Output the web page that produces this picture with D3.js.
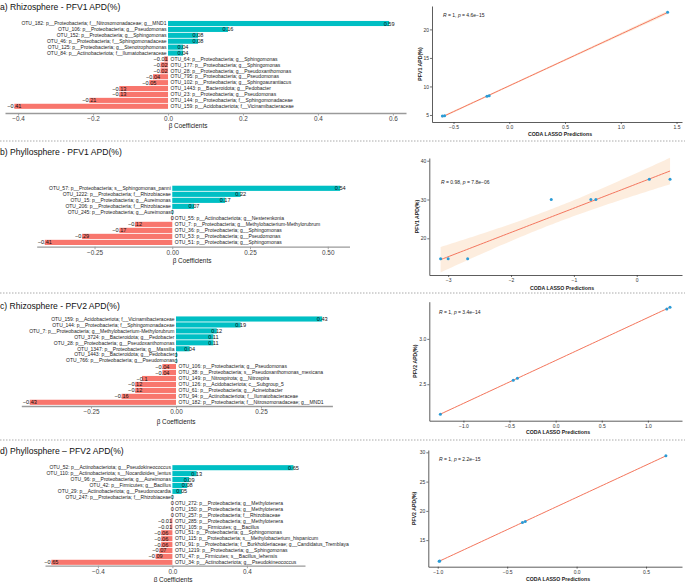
<!DOCTYPE html>
<html><head><meta charset="utf-8">
<script src="https://cdn.jsdelivr.net/npm/d3@7"></script>
<style>body{margin:0;background:#fff;} svg{display:block;font-family:"Liberation Sans",Arial,Helvetica,sans-serif;}</style>
</head><body><svg id="chart" width="685" height="582"></svg>
<script>
// ---------- DATA ----------
const rhizoPFV1Labels = [
  "OTU_182: p__Proteobacteria; f__Nitrosomonadaceae; g__MND1",
  "OTU_106: p__Proteobacteria; g__Pseudomonas",
  "OTU_152: p__Proteobacteria; g__Sphingomonas",
  "OTU_46: p__Proteobacteria; f__Sphingomonadaceae",
  "OTU_125: p__Proteobacteria; g__Stenotrophomonas",
  "OTU_84: p__Actinobacteriota; f__Ilumatobacteraceae",
  "OTU_64: p__Proteobacteria; g__Sphingomonas",
  "OTU_177: p__Proteobacteria; g__Sphingomonas",
  "OTU_28: p__Proteobacteria; g__Pseudoxanthomonas",
  "OTU_795: p__Proteobacteria; g__Pseudomonas",
  "OTU_102: p__Proteobacteria; g__Sphingoaurantiacus",
  "OTU_1443: p__Bacteroidota; g__Pedobacter",
  "OTU_23: p__Proteobacteria; g__Pseudomonas",
  "OTU_144: p__Proteobacteria; f__Sphingomonadaceae",
  "OTU_159: p__Acidobacteriota; f__Vicinamibacteraceae"];
const rhizoPFV1Values = [0.59, 0.16, 0.08, 0.08, 0.04, 0.04, -0.01, -0.02, -0.02, -0.04, -0.05, -0.13, -0.13, -0.21, -0.41];

const phylloPFV1Labels = [
  "OTU_57: p__Proteobacteria; s__Sphingomonas_panni",
  "OTU_1222: p__Proteobacteria; f__Rhizobiaceae",
  "OTU_15: p__Proteobacteria; g__Aureimonas",
  "OTU_206: p__Proteobacteria; f__Rhizobiaceae",
  "OTU_245: p__Proteobacteria; g__Aureimonas",
  "OTU_55: p__Actinobacteriota; g__Nesterenkonia",
  "OTU_7: p__Proteobacteria; g__Methylobacterium-Methylorubrum",
  "OTU_36: p__Proteobacteria; g__Sphingomonas",
  "OTU_53: p__Proteobacteria; g__Pseudomonas",
  "OTU_51: p__Proteobacteria; g__Sphingomonas"];
const phylloPFV1Values = [0.54, 0.22, 0.17, 0.07, 0.002, -0.002, -0.12, -0.17, -0.29, -0.41];

const rhizoPFV2Labels = [
  "OTU_159: p__Acidobacteriota; f__Vicinamibacteraceae",
  "OTU_144: p__Proteobacteria; f__Sphingomonadaceae",
  "OTU_7: p__Proteobacteria; g__Methylobacterium-Methylorubrum",
  "OTU_3724: p__Bacteroidota; g__Pedobacter",
  "OTU_28: p__Proteobacteria; g__Pseudoxanthomonas",
  "OTU_1347: p__Proteobacteria; g__Massilia",
  "OTU_1443: p__Bacteroidota; g__Pedobacter",
  "OTU_766: p__Proteobacteria; g__Pseudomonas",
  "OTU_106: p__Proteobacteria; g__Pseudomonas",
  "OTU_38: p__Proteobacteria; s__Pseudoxanthomonas_mexicana",
  "OTU_149: p__Nitrospirota; g__Nitrospira",
  "OTU_126: p__Acidobacteriota; c__Subgroup_5",
  "OTU_61: p__Proteobacteria; g__Acinetobacter",
  "OTU_94: p__Actinobacteriota; f__Ilumatobacteraceae",
  "OTU_182: p__Proteobacteria; f__Nitrosomonadaceae; g__MND1"];
const rhizoPFV2Values = [0.43, 0.19, 0.12, 0.11, 0.11, 0.04, 0.003, 0.002, -0.04, -0.04, -0.1, -0.12, -0.12, -0.16, -0.43];

const phylloPFV2Labels = [
  "OTU_52: p__Actinobacteriota; g__Pseudokineococcus",
  "OTU_110: p__Actinobacteriota; s__Nocardioides_lentus",
  "OTU_96: p__Proteobacteria; g__Aureimonas",
  "OTU_42: p__Firmicutes; g__Bacillus",
  "OTU_29: p__Actinobacteriota; g__Pseudonocardia",
  "OTU_247: p__Proteobacteria; f__Rhizobiaceae",
  "OTU_272: p__Proteobacteria; g__Methylotenera",
  "OTU_150: p__Proteobacteria; g__Methylotenera",
  "OTU_257: p__Proteobacteria; f__Rhizobiaceae",
  "OTU_285: p__Proteobacteria; g__Methylotenera",
  "OTU_105: p__Firmicutes; g__Bacillus",
  "OTU_51: p__Proteobacteria; g__Sphingomonas",
  "OTU_115: p__Proteobacteria; s__Methylobacterium_hispanicum",
  "OTU_91: p__Proteobacteria; f__Burkholderiaceae; g__Candidatus_Tremblaya",
  "OTU_1219: p__Proteobacteria; g__Sphingomonas",
  "OTU_47: p__Firmicutes; s__Bacillus_lehensis",
  "OTU_34: p__Actinobacteriota; g__Pseudokineococcus"];
const phylloPFV2Values = [0.65, 0.13, 0.09, 0.08, 0.05, 0.003, -0.002, -0.002, -0.002, -0.01, -0.01, -0.06, -0.06, -0.06, -0.07, -0.09, -0.65];

const barTicksA = [-0.4, -0.2, 0.0, 0.2, 0.4, 0.6];
const barTicksB = [-0.25, 0.00, 0.25, 0.50];
const barTicksC = [-0.25, 0.00, 0.25];
const barTicksD = [-0.4, 0.0, 0.4];

// scatter data (CODA LASSO prediction, observed APD %)
const scatterAx = [-0.6, -0.58, -0.2, -0.18, 1.42];
const scatterAy = [4.8, 4.85, 8.3, 8.35, 23.0];
const scatterBx = [-3.12, -3.0, -2.69, -1.36, -0.73, -0.65, 0.2, 0.53];
const scatterBy = [14.7, 14.7, 14.7, 30.0, 30.0, 30.0, 35.2, 35.2];
const scatterCx = [-1.25, -0.46, -0.415, 1.205, 1.24];
const scatterCy = [2.17, 2.545, 2.565, 3.33, 3.35];
const scatterDx = [-0.99, -0.985, -0.39, -0.37, 0.643];
const scatterDy = [11.4, 11.45, 18.0, 18.2, 29.4];

const scatXTicksA = [-0.5, 0.0, 0.5, 1.0, 1.5], scatYTicksA = [5, 10, 15, 20];
const scatXTicksB = [-3, -2, -1, 0], scatYTicksB = [20, 30, 40];
const scatXTicksC = [-1.0, -0.5, 0.0, 0.5, 1.0], scatYTicksC = [2.5, 3.0];
const scatXTicksD = [-1.0, -0.5, 0.0, 0.5], scatYTicksD = [15, 20, 25, 30];

const titles = ["a) Rhizosphere - PFV1 APD(%)", "b) Phyllosphere - PFV1 APD(%)",
                "c) Rhizosphere - PFV2 APD(%)", "d) Phyllosphere \u2013 PFV2 APD(%)"];
const annotations = [["1", "4.6e\u221215"], ["0.98", "7.8e\u221206"], ["1", "3.4e\u221214"], ["1", "2.2e\u221215"]];
const tCrit = {3: 3.182, 6: 2.447};

// ---------- DRAW ----------
const svg = d3.select("#chart");
const POS = "#00BFC4", NEG = "#F8766D";

// separators
[141, 293, 440].forEach(yy => {
  svg.append("line").attr("x1", 0).attr("x2", 685).attr("y1", yy).attr("y2", yy)
    .attr("stroke", "#aaa").attr("stroke-width", 1).attr("stroke-dasharray", "1.5,1.5");
});

function valText(v) {
  let s = String(+v.toFixed(2));
  if (s === "-0") s = "0";
  return s.replace("-", "\u2212");
}

function barPanel(p) {
  const g = svg.append("g");
  g.append("text").attr("x", 0).attr("y", p.titleY).attr("font-size", 8.6).attr("fill", "#111").text(p.title);
  const x = d3.scaleLinear().domain(p.domain).range(p.xr);
  const n = p.labels.length;
  const step = (p.yc[1] - p.yc[0]) / (n - 1);
  const y = d3.scaleBand().domain(p.labels).range([p.yc[0] - step / 2, p.yc[1] + step / 2])
    .paddingInner(0.14).paddingOuter(0.07);
  const data = p.labels.map((l, i) => ({l, v: p.values[i]}));
  g.selectAll("rect.bar").data(data).join("rect")
    .attr("x", d => Math.min(x(0), x(d.v)))
    .attr("width", d => Math.abs(x(d.v) - x(0)))
    .attr("y", d => y(d.l)).attr("height", y.bandwidth())
    .attr("fill", d => d.v >= 0 ? POS : NEG);
  g.selectAll("text.cat").data(data).join("text")
    .attr("x", d => d.v >= 0 ? x(0) - 1.5 : x(0) + 2.5)
    .attr("y", d => y(d.l) + y.bandwidth() / 2)
    .attr("dy", "0.35em")
    .attr("text-anchor", d => d.v >= 0 ? "end" : "start")
    .attr("font-size", 5).attr("fill", "#222").text(d => d.l);
  g.selectAll("text.val").data(data).join("text")
    .attr("y", d => y(d.l) + y.bandwidth() / 2)
    .attr("dy", "0.36em").attr("text-anchor", "middle")
    .attr("font-size", 5.6).attr("fill", "#111").text(d => valText(d.v))
    .attr("x", function(d) {
      const t = valText(d.v);
      if (t === "0") return x(0);
      const hw = this.getComputedTextLength() / 2;
      return d.v < 0 ? Math.min(x(d.v), x(0) - hw - 0.3) : Math.max(x(d.v), x(0) + hw + 0.3);
    });
  const ax = g.append("g").attr("transform", `translate(0,${p.axisY})`)
    .call(d3.axisBottom(x).tickValues(p.ticks).tickFormat(d3.format(p.fmt)).tickSize(2.5).tickSizeOuter(0).tickPadding(1.2));
  ax.select(".domain").attr("stroke", "#9a9a9a").attr("stroke-width", 1.3);
  ax.selectAll(".tick line").attr("stroke", "#9a9a9a").attr("stroke-width", 0.9);
  ax.selectAll(".tick text").attr("font-size", 6.4).attr("fill", "#444").attr("font-family", null);
  g.append("text").attr("x", p.xlabX).attr("y", p.xlabY).attr("text-anchor", "middle")
    .attr("font-size", 6.4).attr("fill", "#222").text("\u03B2 Coefficients");
}

barPanel({title: titles[0], titleY: 10, labels: rhizoPFV1Labels, values: rhizoPFV1Values,
  domain: [-0.435, 0.635], xr: [5, 406], yc: [23.5, 106.3], axisY: 113, ticks: barTicksA, fmt: ".1f",
  xlabX: 188, xlabY: 128});
barPanel({title: titles[1], titleY: 155, labels: phylloPFV1Labels, values: phylloPFV1Values,
  domain: [-0.436, 0.57], xr: [36.7, 349.5], yc: [188.3, 242.4], axisY: 246.7, ticks: barTicksB, fmt: ".2f",
  xlabX: 192, xlabY: 263});
barPanel({title: titles[2], titleY: 308.5, labels: rhizoPFV2Labels, values: rhizoPFV2Values,
  domain: [-0.455, 0.46], xr: [21.3, 332.4], yc: [319, 402.3], axisY: 406, ticks: barTicksC, fmt: ".2f",
  xlabX: 176, xlabY: 424});
barPanel({title: titles[3], titleY: 454, labels: phylloPFV2Labels, values: phylloPFV2Values,
  domain: [-0.684, 0.712], xr: [45, 305], yc: [467.7, 562.3], axisY: 565.7, ticks: barTicksD, fmt: ".1f",
  xlabX: 173, xlabY: 581.5});

function scatter(p) {
  const g = svg.append("g");
  const x = d3.scaleLinear().domain(p.xdom).range(p.xr);
  const y = d3.scaleLinear().domain(p.ydom).range(p.yr);
  const n = p.xs.length;
  const mx = d3.mean(p.xs), my = d3.mean(p.ys);
  let sxx = 0, sxy = 0;
  p.xs.forEach((v, i) => { sxx += (v - mx) ** 2; sxy += (v - mx) * (p.ys[i] - my); });
  const b1 = sxy / sxx, b0 = my - b1 * mx;
  let sse = 0;
  p.xs.forEach((v, i) => { sse += (p.ys[i] - (b0 + b1 * v)) ** 2; });
  const s = Math.sqrt(sse / (n - 2));
  const t = tCrit[n - 2];
  const [x0, x1] = d3.extent(p.xs);
  const grid = d3.range(0, 81).map(k => x0 + (x1 - x0) * k / 80);
  const band = grid.map(xv => {
    const se = s * Math.sqrt(1 / n + (xv - mx) ** 2 / sxx);
    const yh = b0 + b1 * xv;
    return {x: xv, lo: yh - t * se, hi: yh + t * se, y: yh};
  });
  g.append("path").datum(band)
    .attr("d", d3.area().x(d => x(d.x)).y0(d => y(d.lo)).y1(d => y(d.hi)))
    .attr("fill", "#FDEBDA").attr("opacity", 0.9);
  g.append("path").datum(band)
    .attr("d", d3.line().x(d => x(d.x)).y(d => y(d.y)))
    .attr("fill", "none").attr("stroke", "#F4765E").attr("stroke-width", 1);
  g.selectAll("circle").data(p.xs.map((v, i) => [v, p.ys[i]])).join("circle")
    .attr("cx", d => x(d[0])).attr("cy", d => y(d[1])).attr("r", 1.5).attr("fill", "#2A9BD6");
  const axB = g.append("g").attr("transform", `translate(0,${p.yr[0]})`)
    .call(d3.axisBottom(x).tickValues(p.xticks).tickFormat(d3.format(p.fx)).tickSize(2).tickSizeOuter(0).tickPadding(1.5));
  const axL = g.append("g").attr("transform", `translate(${p.xr[0]},0)`)
    .call(d3.axisLeft(y).tickValues(p.yticks).tickFormat(d3.format(p.fy)).tickSize(2).tickSizeOuter(0).tickPadding(1));
  [axB, axL].forEach(a => {
    a.select(".domain").attr("stroke", "#333").attr("stroke-width", 0.8);
    a.selectAll(".tick line").attr("stroke", "#333").attr("stroke-width", 0.7);
    a.selectAll(".tick text").attr("font-size", 5).attr("fill", "#333").attr("font-family", null);
  });
  if (p.xlabY) g.append("text").attr("x", p.xlabX).attr("y", p.xlabY).attr("text-anchor", "middle")
    .attr("font-size", 5.2).attr("font-weight", "bold").attr("fill", "#222").text("CODA LASSO Predictions");
  g.append("text").attr("transform", `translate(${p.ylabX},${(p.yr[0] + p.yr[1]) / 2}) rotate(-90)`)
    .attr("text-anchor", "middle").attr("font-size", 5.2).attr("font-weight", "bold").attr("fill", "#222").text(p.ylab);
  const an = g.append("text").attr("x", p.annX).attr("y", p.annY).attr("font-size", 5).attr("fill", "#222");
  an.append("tspan").attr("font-style", "italic").text("R");
  an.append("tspan").text(" = " + p.ann[0] + ", ");
  an.append("tspan").attr("font-style", "italic").text("p");
  an.append("tspan").text(" = " + p.ann[1]);
}

scatter({xs: scatterAx, ys: scatterAy, xdom: [-0.693, 1.549], xr: [432, 682], ydom: [3.77, 24.1], yr: [122, 6],
  xticks: scatXTicksA, yticks: scatYTicksA, fx: ".1f", fy: "d", ann: annotations[0], annX: 443, annY: 17,
  ylab: "PFV1 APD(%)", ylabX: 422, xlabX: 560, xlabY: 136});
scatter({xs: scatterBx, ys: scatterBy, xdom: [-3.30, 0.72], xr: [429.3, 682], ydom: [10.54, 40.7], yr: [275, 158],
  xticks: scatXTicksB, yticks: scatYTicksB, fx: "d", fy: "d", ann: annotations[1], annX: 441, annY: 184,
  ylab: "PFV1 APD(%)", ylabX: 419, xlabX: 562, xlabY: 289.5});
scatter({xs: scatterCx, ys: scatterCy, xdom: [-1.37, 1.37], xr: [429.3, 682], ydom: [2.098, 3.41], yr: [420.7, 301.7],
  xticks: scatXTicksC, yticks: scatYTicksC, fx: ".1f", fy: ".1f", ann: annotations[2], annX: 439, annY: 313.5,
  ylab: "PFV2 APD(%)", ylabX: 417, xlabX: 558, xlabY: 434});
scatter({xs: scatterDx, ys: scatterDy, xdom: [-1.068, 0.759], xr: [428.3, 682], ydom: [10.46, 30.4], yr: [566.7, 450],
  xticks: scatXTicksD, yticks: scatYTicksD, fx: ".1f", fy: "d", ann: annotations[3], annX: 439, annY: 461,
  ylab: "PFV2 APD(%)", ylabX: 416, xlabX: 558, xlabY: 581});
</script></body></html>
